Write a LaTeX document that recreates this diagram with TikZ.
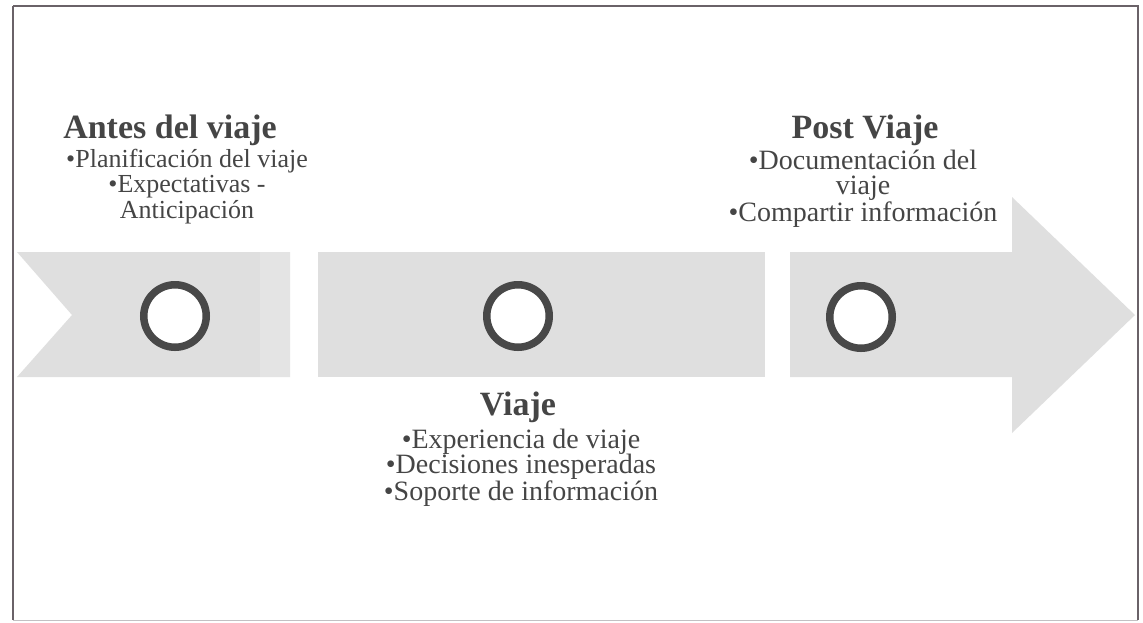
\documentclass[tikz,border=0pt]{standalone}
\usepackage{fontspec}
\setmainfont{Liberation Serif}
\usetikzlibrary{positioning}
\definecolor{bandgray}{HTML}{DFDFDF}
\definecolor{stripgray}{HTML}{E4E4E4}
\definecolor{ringgray}{HTML}{484848}
\definecolor{txtgray}{HTML}{454545}
\definecolor{framegray}{HTML}{6A6268}
\tikzstyle{stage} = [font=\fontsize{34}{38}\selectfont\bfseries, text=txtgray, inner sep=0pt]
\tikzstyle{items} = [font=\fontsize{28}{25.5}\selectfont, text=txtgray, align=center, inner sep=0pt]
\tikzstyle{ring} = [circle, draw=ringgray, line width=7.5pt, fill=white, minimum size=62.5pt, inner sep=0pt]

\begin{document}
\begin{tikzpicture}[x=1pt,y=-1pt]
\useasboundingbox (0,0) rectangle (1143,622);
% frame
\draw[framegray, line width=1.6pt] (13,6) -- (1138,6) -- (1138,620);
\draw[framegray, line width=1.6pt] (13,6) -- (13,620);
\draw[framegray!40, line width=1pt] (13,620) -- (1138,620);
% the band, in three pieces
\fill[bandgray] (17,252) -- (290,252) -- (290,377) -- (17,377) -- (72,315) -- cycle;
\fill[stripgray] (260,252) rectangle (290,377);
\fill[bandgray] (318,252) rectangle (765,377);
\fill[bandgray] (790,252) -- (1012,252) -- (1012,197) -- (1135,315)
    -- (1012,433) -- (1012,377) -- (790,377) -- cycle;
% circles
\node[ring] (c1) at (175,316) {};
\node[ring] (c2) at (518,316) {};
\node[ring] (c3) at (861,317) {};
% texts
\node[stage] (antes) at (170,130) {Antes del viaje};
\node[items, font=\fontsize{26}{25.5}\selectfont, below=3pt of antes,
    xshift=17pt] (antesTxt) {•Planificación del viaje\\
    •Expectativas -\\ Anticipación};
\node[stage] (post) at (865,130) {Post Viaje};
\node[items, below=4pt of post, xshift=-2pt] (postTxt) {•Documentación del\\
    viaje\\ •Compartir información};
\node[stage] (viaje) at (518,407) {Viaje};
\node[items, below=6pt of viaje, xshift=3pt] (viajeTxt) {•Experiencia de viaje\\
    •Decisiones inesperadas\\ •Soporte de información};
\end{tikzpicture}
\end{document}
